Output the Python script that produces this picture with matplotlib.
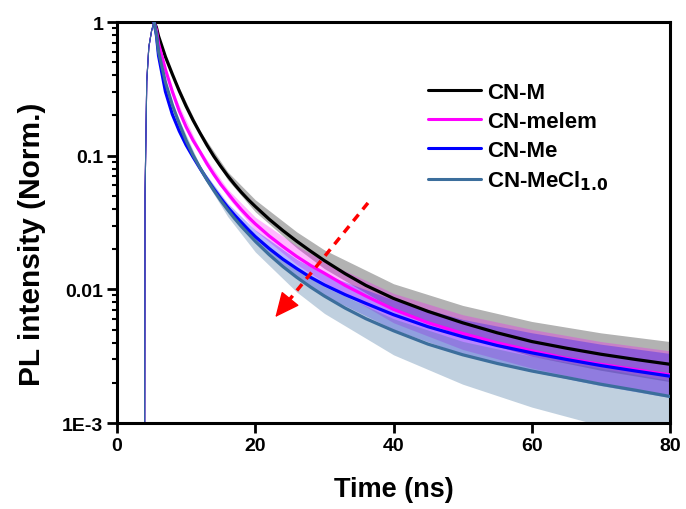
import numpy as np
import matplotlib
matplotlib.use("Agg")
import matplotlib.pyplot as plt
from matplotlib.ticker import LogLocator, FixedLocator, NullFormatter

plt.rcParams['font.family'] = ['Liberation Sans', 'DejaVu Sans']
plt.rcParams['font.weight'] = 'bold'

# ---------------- data ----------------
labels = ["CN-M", "CN-melem", "CN-Me", "CN-MeCl$_{\\mathbf{1.0}}$"]
colors = ["#000000", "#FF00FF", "#0000FF", "#3C6E9C"]

t_rise = [4.0, 4.05, 4.3, 4.6, 5.0]
rise_vals = [0.001, 0.05, 0.36, 0.65, 0.86]

t_decay = [5.35, 5.7, 6, 7, 8, 9, 10, 11, 12, 13, 14, 15, 16, 17, 18, 19, 20,
           22, 24, 26, 28, 30, 33, 36, 40, 45, 50, 55, 60, 65, 70, 75, 80]
fit_cn_m = [1.0, 0.912, 0.785, 0.550, 0.407, 0.305, 0.234, 0.184, 0.148, 0.120, 0.0989,
            0.0832, 0.0708, 0.0610, 0.0531, 0.0468, 0.0417, 0.0335, 0.0275, 0.0229, 0.0193,
            0.0164, 0.0131, 0.0107, 0.00855, 0.00684, 0.00562, 0.00473, 0.00407, 0.00363,
            0.00327, 0.00299, 0.00275]
fit_melem = [1.0, 0.871, 0.692, 0.442, 0.302, 0.216, 0.164, 0.130, 0.107, 0.0871, 0.0724,
             0.0610, 0.0525, 0.0452, 0.0394, 0.0347, 0.0309, 0.0251, 0.0209, 0.0176, 0.0151,
             0.0132, 0.0107, 0.00891, 0.00708, 0.00562, 0.00468, 0.00398, 0.00347, 0.00305,
             0.00275, 0.00251, 0.00229]
fit_me = [1.0, 0.794, 0.562, 0.302, 0.204, 0.153, 0.120, 0.0977, 0.0804, 0.0668, 0.0562,
          0.0479, 0.0412, 0.0359, 0.0316, 0.0279, 0.0248, 0.0202, 0.0168, 0.0143, 0.0123,
          0.0108, 0.00912, 0.00785, 0.00646, 0.00525, 0.00442, 0.00380, 0.00335, 0.00299,
          0.00269, 0.00245, 0.00224]
fit_mecl = [1.0, 0.813, 0.603, 0.355, 0.240, 0.174, 0.130, 0.101, 0.0813, 0.0661, 0.0550,
            0.0462, 0.0394, 0.0339, 0.0295, 0.0260, 0.0229, 0.0182, 0.0148, 0.0123, 0.0104,
            0.00891, 0.00724, 0.00603, 0.00490, 0.00389, 0.00324, 0.00279, 0.00245, 0.00219,
            0.00195, 0.00176, 0.00158]

# spread of the noisy measured traces around the fits (decades, up / down)
t_band = [8, 12, 16, 20, 26, 30, 40, 50, 60, 70, 80]
up_cn_m = [0.005, 0.015, 0.03, 0.05, 0.07, 0.08, 0.11, 0.13, 0.15, 0.16, 0.17]
dn_cn_m = [0.005, 0.015, 0.03, 0.04, 0.05, 0.06, 0.08, 0.10, 0.11, 0.12, 0.13]
up_melem = [0.005, 0.015, 0.03, 0.05, 0.08, 0.09, 0.12, 0.14, 0.16, 0.17, 0.18]
dn_melem = [0.005, 0.015, 0.03, 0.05, 0.06, 0.07, 0.10, 0.12, 0.13, 0.14, 0.15]
up_me = [0.005, 0.015, 0.03, 0.05, 0.07, 0.08, 0.11, 0.13, 0.15, 0.16, 0.17]
dn_me = [0.005, 0.015, 0.03, 0.05, 0.07, 0.08, 0.11, 0.13, 0.14, 0.15, 0.16]
up_mecl = [0.005, 0.015, 0.03, 0.05, 0.06, 0.07, 0.09, 0.10, 0.11, 0.12, 0.12]
dn_mecl = [0.01, 0.03, 0.05, 0.08, 0.11, 0.13, 0.18, 0.22, 0.27, 0.31, 0.35]

fits = [fit_cn_m, fit_melem, fit_me, fit_mecl]
ups = [up_cn_m, up_melem, up_me, up_mecl]
dns = [dn_cn_m, dn_melem, dn_me, dn_mecl]

arrow_tail = (36.3, 0.0443)
arrow_tip = (22.9, 0.0062)

x_ticks = [0, 20, 40, 60, 80]
y_ticks = [0.001, 0.01, 0.1, 1]
y_ticklabels = ["1E-3", "0.01", "0.1", "1"]

# ---------------- figure ----------------
fig = plt.figure(figsize=(6.86, 5.10), dpi=100)
ax = fig.add_axes([0.1706, 0.1686, 0.8061, 0.7863])

band_alpha = [0.30, 0.28, 0.28, 0.32]
for fit, up, dn, c, a in zip(fits, ups, dns, colors, band_alpha):
    lookup = dict(zip(t_decay, fit))
    fb = np.array([lookup[t] for t in t_band])
    ax.fill_between(t_band, fb * 10 ** (-np.array(dn)), fb * 10 ** np.array(up),
                    color=c, alpha=a, lw=0, zorder=1)
    ax.plot(t_rise + [t_decay[0]], rise_vals + [fit[0]], color=c, lw=0.8, zorder=2)

for fit, c, lab in zip(fits, colors, labels):
    ax.plot(t_decay, fit, color=c, lw=2.3, label=lab, zorder=3, solid_capstyle='round')

# dashed red arrow
lt0, lt1 = np.log10(arrow_tail[1]), np.log10(arrow_tip[1])
frac = 0.85
base = (arrow_tail[0] + frac * (arrow_tip[0] - arrow_tail[0]), 10 ** (lt0 + frac * (lt1 - lt0)))
ax.plot([arrow_tail[0], base[0]], [arrow_tail[1], base[1]], color='red', lw=2.5,
        dashes=(2.4, 1.9), zorder=4)
ax.annotate("", xy=arrow_tip, xytext=base,
            arrowprops=dict(arrowstyle='-|>,head_length=1.3,head_width=0.6', color='red',
                            lw=1.0, mutation_scale=12, shrinkA=0, shrinkB=0), zorder=4)

ax.set_yscale('log')
ax.set_xlim(0, 80)
ax.set_ylim(0.001, 1)
ax.xaxis.set_major_locator(FixedLocator(x_ticks))
ax.set_xticklabels([str(v) for v in x_ticks])
ax.yaxis.set_major_locator(FixedLocator(y_ticks))
ax.set_yticklabels(y_ticklabels)
ax.yaxis.set_minor_locator(LogLocator(base=10, subs=np.arange(2, 10)))
ax.yaxis.set_minor_formatter(NullFormatter())

for s in ax.spines.values():
    s.set_linewidth(2.2)
ax.tick_params(axis='both', which='major', direction='out', length=7, width=2,
               labelsize=14, pad=3)
ax.tick_params(axis='y', which='minor', direction='out', length=3.5, width=1.5)
ax.tick_params(top=False, right=False)
for lbl in ax.get_xticklabels() + ax.get_yticklabels():
    lbl.set_fontweight('bold')

ax.set_xlabel("Time (ns)", fontsize=19.5, fontweight='bold', labelpad=16)
ax.set_ylabel("PL intensity (Norm.)", fontsize=21.5, fontweight='bold')
ax.yaxis.set_label_coords(-0.128, 0.449)

leg = ax.legend(loc='upper left', bbox_to_anchor=(0.547, 0.872), frameon=False, fontsize=16,
                handlelength=2.35, handletextpad=0.3, labelspacing=0.35, borderaxespad=0)
for line in leg.get_lines():
    line.set_linewidth(2.2)
for txt in leg.get_texts():
    txt.set_fontweight('bold')

fig.savefig("out.png", dpi=100)
